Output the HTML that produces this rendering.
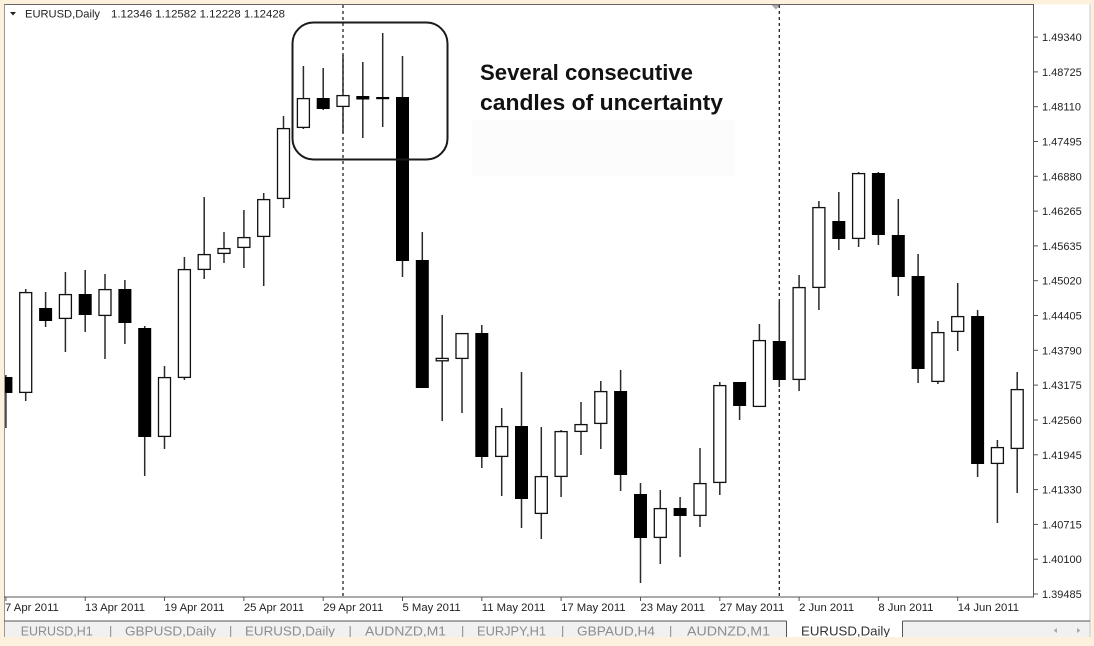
<!DOCTYPE html>
<html>
<head>
<meta charset="utf-8">
<style>
  html,body{margin:0;padding:0;background:#fdf1dd;}
  body{width:1094px;height:646px;overflow:hidden;}
  svg{display:block;}
  .ax{font-family:"Liberation Sans",Arial,sans-serif;font-size:11px;fill:#222;}
  .dt{font-family:"Liberation Sans",Arial,sans-serif;font-size:11.3px;fill:#222;}
  .tab{font-family:"Liberation Sans",Arial,sans-serif;font-size:12.8px;fill:#8c8c8c;}
  .tabA{font-family:"Liberation Sans",Arial,sans-serif;font-size:12.8px;fill:#333;}
  .ann{font-family:"Liberation Sans",Arial,sans-serif;font-size:22.5px;font-weight:bold;fill:#111;}
</style>
</head>
<body>
<svg width="1094" height="646" viewBox="0 0 1094 646" xmlns="http://www.w3.org/2000/svg">
  <!-- background -->
  <rect x="0" y="0" width="1094" height="646" fill="#fdf1dd"/>
  <rect x="4" y="4.5" width="1086" height="617" fill="#ffffff"/>
  <!-- tab strip -->
  <rect x="4" y="621" width="1086" height="16" fill="#f1f1f1"/>
  <rect x="786" y="620" width="117" height="17" fill="#ffffff"/>

  <!-- faint panel under annotation -->
  <rect x="472" y="120" width="263" height="56" fill="#fcfcfc"/>

  <!-- frame lines -->
  <line x1="4" y1="4.5" x2="1034" y2="4.5" stroke="#666" stroke-width="1"/>
  <line x1="4.5" y1="4.5" x2="4.5" y2="637" stroke="#999" stroke-width="1"/>
  <line x1="1033.5" y1="4.5" x2="1033.5" y2="597.5" stroke="#555" stroke-width="1"/>
  <line x1="4" y1="597" x2="1034" y2="597" stroke="#555" stroke-width="1"/>
  <line x1="1090" y1="4.5" x2="1090" y2="637" stroke="#c8c8c8" stroke-width="1"/>

  <!-- top marker -->
  <polygon points="771.5,5 780,5 776,9.5" fill="#aaa"/>

  <!-- header -->
  <polygon points="10,12 16,12 13,15.5" fill="#222"/>
  <text x="25" y="17.3" class="ax" style="font-size:11.2px" textLength="75" lengthAdjust="spacingAndGlyphs">EURUSD,Daily</text>
  <text x="111" y="17.3" class="ax" style="font-size:11.4px" textLength="174" lengthAdjust="spacingAndGlyphs">1.12346 1.12582 1.12228 1.12428</text>

  <!-- period separators -->
  <g stroke="#222" stroke-width="1.3" stroke-dasharray="3,3">
    <line x1="343" y1="5" x2="343" y2="597"/>
    <line x1="779.3" y1="5" x2="779.3" y2="597"/>
  </g>

  <!-- right axis ticks and labels -->
  <g stroke="#555" stroke-width="1">
    <line x1="1033" y1="37.1" x2="1038" y2="37.1"/>
    <line x1="1033" y1="71.9" x2="1038" y2="71.9"/>
    <line x1="1033" y1="106.7" x2="1038" y2="106.7"/>
    <line x1="1033" y1="141.5" x2="1038" y2="141.5"/>
    <line x1="1033" y1="176.3" x2="1038" y2="176.3"/>
    <line x1="1033" y1="211.1" x2="1038" y2="211.1"/>
    <line x1="1033" y1="245.9" x2="1038" y2="245.9"/>
    <line x1="1033" y1="280.7" x2="1038" y2="280.7"/>
    <line x1="1033" y1="315.5" x2="1038" y2="315.5"/>
    <line x1="1033" y1="350.3" x2="1038" y2="350.3"/>
    <line x1="1033" y1="385.1" x2="1038" y2="385.1"/>
    <line x1="1033" y1="420" x2="1038" y2="420"/>
    <line x1="1033" y1="454.8" x2="1038" y2="454.8"/>
    <line x1="1033" y1="489.6" x2="1038" y2="489.6"/>
    <line x1="1033" y1="524.4" x2="1038" y2="524.4"/>
    <line x1="1033" y1="559.2" x2="1038" y2="559.2"/>
    <line x1="1033" y1="594" x2="1038" y2="594"/>
  </g>
  <g class="ax">
    <text x="1042" y="41.1">1.49340</text>
    <text x="1042" y="75.9">1.48725</text>
    <text x="1042" y="110.7">1.48110</text>
    <text x="1042" y="145.5">1.47495</text>
    <text x="1042" y="180.3">1.46880</text>
    <text x="1042" y="215.1">1.46265</text>
    <text x="1042" y="249.9">1.45635</text>
    <text x="1042" y="284.7">1.45020</text>
    <text x="1042" y="319.5">1.44405</text>
    <text x="1042" y="354.3">1.43790</text>
    <text x="1042" y="389.1">1.43175</text>
    <text x="1042" y="424">1.42560</text>
    <text x="1042" y="458.8">1.41945</text>
    <text x="1042" y="493.6">1.41330</text>
    <text x="1042" y="528.4">1.40715</text>
    <text x="1042" y="563.2">1.40100</text>
    <text x="1042" y="598">1.39485</text>
  </g>

  <!-- bottom ticks and date labels -->
  <g stroke="#555" stroke-width="1">
    <line x1="5.9" y1="597" x2="5.9" y2="601"/>
    <line x1="85.2" y1="597" x2="85.2" y2="601"/>
    <line x1="164.5" y1="597" x2="164.5" y2="601"/>
    <line x1="243.9" y1="597" x2="243.9" y2="601"/>
    <line x1="323.2" y1="597" x2="323.2" y2="601"/>
    <line x1="402.5" y1="597" x2="402.5" y2="601"/>
    <line x1="481.8" y1="597" x2="481.8" y2="601"/>
    <line x1="561.1" y1="597" x2="561.1" y2="601"/>
    <line x1="640.5" y1="597" x2="640.5" y2="601"/>
    <line x1="719.8" y1="597" x2="719.8" y2="601"/>
    <line x1="799.1" y1="597" x2="799.1" y2="601"/>
    <line x1="878.4" y1="597" x2="878.4" y2="601"/>
    <line x1="957.7" y1="597" x2="957.7" y2="601"/>
  </g>
  <g class="dt">
    <text x="5" y="611">7 Apr 2011</text>
    <text x="85" y="611">13 Apr 2011</text>
    <text x="164.5" y="611">19 Apr 2011</text>
    <text x="243.9" y="611">25 Apr 2011</text>
    <text x="323.2" y="611">29 Apr 2011</text>
    <text x="402.5" y="611">5 May 2011</text>
    <text x="481.8" y="611">11 May 2011</text>
    <text x="561.1" y="611">17 May 2011</text>
    <text x="640.5" y="611">23 May 2011</text>
    <text x="719.8" y="611">27 May 2011</text>
    <text x="799.1" y="611">2 Jun 2011</text>
    <text x="878.4" y="611">8 Jun 2011</text>
    <text x="957.7" y="611">14 Jun 2011</text>
  </g>

  <!-- candles -->
  <svg x="5" y="5" width="1028" height="592" viewBox="5 5 1028 592" overflow="hidden">
  <g stroke="#2a2a2a" stroke-width="1.5">
    <line x1="5.9" y1="375" x2="5.9" y2="428"/>
    <line x1="25.7" y1="289" x2="25.7" y2="401"/>
    <line x1="45.6" y1="292" x2="45.6" y2="327"/>
    <line x1="65.4" y1="272" x2="65.4" y2="352"/>
    <line x1="85.2" y1="270" x2="85.2" y2="332"/>
    <line x1="105" y1="274" x2="105" y2="359"/>
    <line x1="124.9" y1="280" x2="124.9" y2="344"/>
    <line x1="144.7" y1="326" x2="144.7" y2="476"/>
    <line x1="164.5" y1="366" x2="164.5" y2="449"/>
    <line x1="184.4" y1="257" x2="184.4" y2="380"/>
    <line x1="204.2" y1="197" x2="204.2" y2="279"/>
    <line x1="224" y1="232" x2="224" y2="263"/>
    <line x1="243.9" y1="210" x2="243.9" y2="268"/>
    <line x1="263.7" y1="193" x2="263.7" y2="286"/>
    <line x1="283.5" y1="116" x2="283.5" y2="208"/>
    <line x1="303.4" y1="66" x2="303.4" y2="129"/>
    <line x1="323.2" y1="68" x2="323.2" y2="110"/>
    <line x1="343" y1="55" x2="343" y2="133"/>
    <line x1="362.8" y1="62" x2="362.8" y2="138"/>
    <line x1="382.7" y1="33" x2="382.7" y2="127"/>
    <line x1="402.5" y1="56" x2="402.5" y2="277"/>
    <line x1="422.3" y1="232" x2="422.3" y2="388"/>
    <line x1="442.2" y1="315" x2="442.2" y2="421"/>
    <line x1="462" y1="333" x2="462" y2="413"/>
    <line x1="481.8" y1="325" x2="481.8" y2="468"/>
    <line x1="501.7" y1="408" x2="501.7" y2="496"/>
    <line x1="521.5" y1="372" x2="521.5" y2="528"/>
    <line x1="541.3" y1="427" x2="541.3" y2="539"/>
    <line x1="561.1" y1="430" x2="561.1" y2="497"/>
    <line x1="581" y1="402" x2="581" y2="455"/>
    <line x1="600.8" y1="381" x2="600.8" y2="449"/>
    <line x1="620.6" y1="370" x2="620.6" y2="491"/>
    <line x1="640.5" y1="483" x2="640.5" y2="583"/>
    <line x1="660.3" y1="490" x2="660.3" y2="564"/>
    <line x1="680.1" y1="497" x2="680.1" y2="557"/>
    <line x1="700" y1="448" x2="700" y2="527"/>
    <line x1="719.8" y1="382" x2="719.8" y2="495"/>
    <line x1="739.6" y1="382" x2="739.6" y2="420"/>
    <line x1="759.4" y1="324" x2="759.4" y2="407"/>
    <line x1="779.3" y1="302" x2="779.3" y2="387"/>
    <line x1="799.1" y1="275" x2="799.1" y2="391"/>
    <line x1="818.9" y1="201" x2="818.9" y2="310"/>
    <line x1="838.8" y1="192" x2="838.8" y2="250"/>
    <line x1="858.6" y1="172" x2="858.6" y2="247"/>
    <line x1="878.4" y1="172" x2="878.4" y2="245"/>
    <line x1="898.3" y1="199" x2="898.3" y2="296"/>
    <line x1="918.1" y1="254" x2="918.1" y2="383"/>
    <line x1="937.9" y1="321" x2="937.9" y2="384"/>
    <line x1="957.7" y1="283" x2="957.7" y2="351"/>
    <line x1="977.6" y1="310" x2="977.6" y2="477"/>
    <line x1="997.4" y1="440" x2="997.4" y2="523"/>
    <line x1="1017.2" y1="372" x2="1017.2" y2="493"/>
  </g>
  <!-- bearish bodies -->
  <g fill="#000">
    <rect x="-0.6" y="377" width="13" height="16"/>
    <rect x="39.1" y="308" width="13" height="13"/>
    <rect x="78.7" y="294" width="13" height="21"/>
    <rect x="118.4" y="289" width="13" height="34"/>
    <rect x="138.2" y="328" width="13" height="109"/>
    <rect x="316.7" y="98" width="13" height="11"/>
    <rect x="356.3" y="96" width="13" height="3.5"/>
    <rect x="376.2" y="97" width="13" height="2.2"/>
    <rect x="396" y="97" width="13" height="164"/>
    <rect x="415.8" y="260" width="13" height="128"/>
    <rect x="475.3" y="333" width="13" height="124"/>
    <rect x="515" y="426" width="13" height="73"/>
    <rect x="614.1" y="391" width="13" height="84"/>
    <rect x="634" y="494" width="13" height="44"/>
    <rect x="673.6" y="508" width="13" height="8"/>
    <rect x="733.1" y="382" width="13" height="24"/>
    <rect x="772.8" y="341" width="13" height="39"/>
    <rect x="832.3" y="221" width="13" height="18"/>
    <rect x="871.9" y="173" width="13" height="62"/>
    <rect x="891.8" y="235" width="13" height="42"/>
    <rect x="911.6" y="276" width="13" height="93"/>
    <rect x="971.1" y="316" width="13" height="148"/>
  </g>
  <!-- bullish bodies -->
  <g fill="#fff" stroke="#111" stroke-width="1.3">
    <rect x="19.7" y="292.6" width="12" height="99.8"/>
    <rect x="59.4" y="294.6" width="12" height="23.8"/>
    <rect x="99" y="289.6" width="12" height="25.8"/>
    <rect x="158.5" y="377.6" width="12" height="58.8"/>
    <rect x="178.4" y="269.6" width="12" height="107.8"/>
    <rect x="198.2" y="254.6" width="12" height="14.8"/>
    <rect x="218" y="248.6" width="12" height="4.8"/>
    <rect x="237.9" y="237.6" width="12" height="9.8"/>
    <rect x="257.7" y="199.6" width="12" height="36.8"/>
    <rect x="277.5" y="128.6" width="12" height="69.8"/>
    <rect x="297.4" y="98.6" width="12" height="28.8"/>
    <rect x="337" y="95.6" width="12" height="10.8"/>
    <rect x="436.2" y="358.4" width="12" height="2.4"/>
    <rect x="456" y="333.6" width="12" height="24.8"/>
    <rect x="495.7" y="426.6" width="12" height="29.8"/>
    <rect x="535.3" y="476.6" width="12" height="36.8"/>
    <rect x="555.1" y="431.6" width="12" height="44.8"/>
    <rect x="575" y="424.6" width="12" height="6.8"/>
    <rect x="594.8" y="391.6" width="12" height="31.8"/>
    <rect x="654.3" y="508.6" width="12" height="28.8"/>
    <rect x="694" y="483.6" width="12" height="31.8"/>
    <rect x="713.8" y="385.6" width="12" height="96.8"/>
    <rect x="753.4" y="340.6" width="12" height="65.8"/>
    <rect x="793.1" y="287.6" width="12" height="91.8"/>
    <rect x="812.9" y="207.6" width="12" height="79.8"/>
    <rect x="852.6" y="173.6" width="12" height="64.8"/>
    <rect x="931.9" y="332.6" width="12" height="48.8"/>
    <rect x="951.7" y="316.6" width="12" height="14.8"/>
    <rect x="991.4" y="447.6" width="12" height="15.8"/>
    <rect x="1011.2" y="389.6" width="12" height="58.8"/>
  </g>
  </svg>

  <!-- annotation box -->
  <rect x="292.5" y="22.5" width="155" height="137" rx="21" ry="21" fill="none" stroke="#1a1a1a" stroke-width="2"/>
  <text x="480" y="80" class="ann" textLength="213" lengthAdjust="spacingAndGlyphs">Several consecutive</text>
  <text x="480" y="110" class="ann" textLength="243" lengthAdjust="spacingAndGlyphs">candles of uncertainty</text>

  <!-- tab strip lines -->
  <line x1="4" y1="621" x2="786.5" y2="621" stroke="#555" stroke-width="1"/>
  <line x1="902.5" y1="621" x2="1090" y2="621" stroke="#555" stroke-width="1"/>
  <line x1="786.5" y1="621" x2="786.5" y2="637" stroke="#555" stroke-width="1"/>
  <line x1="902.5" y1="621" x2="902.5" y2="637" stroke="#555" stroke-width="1"/>

  <!-- tabs -->
  <text x="20.7" y="635.5" class="tab" textLength="72" lengthAdjust="spacingAndGlyphs">EURUSD,H1</text>
  <text x="109" y="635.5" class="tab">|</text>
  <text x="125" y="635.5" class="tab" textLength="91" lengthAdjust="spacingAndGlyphs">GBPUSD,Daily</text>
  <text x="229" y="635.5" class="tab">|</text>
  <text x="245" y="635.5" class="tab" textLength="90" lengthAdjust="spacingAndGlyphs">EURUSD,Daily</text>
  <text x="348.5" y="635.5" class="tab">|</text>
  <text x="365" y="635.5" class="tab" textLength="81" lengthAdjust="spacingAndGlyphs">AUDNZD,M1</text>
  <text x="461" y="635.5" class="tab">|</text>
  <text x="477" y="635.5" class="tab" textLength="69" lengthAdjust="spacingAndGlyphs">EURJPY,H1</text>
  <text x="561" y="635.5" class="tab">|</text>
  <text x="577" y="635.5" class="tab" textLength="78" lengthAdjust="spacingAndGlyphs">GBPAUD,H4</text>
  <text x="669" y="635.5" class="tab">|</text>
  <text x="687" y="635.5" class="tab" textLength="83" lengthAdjust="spacingAndGlyphs">AUDNZD,M1</text>
  <text x="801" y="635.5" class="tabA" textLength="89" lengthAdjust="spacingAndGlyphs">EURUSD,Daily</text>
  <polygon points="1057,628 1053.5,630.5 1057,633" fill="#aaa"/>
  <polygon points="1077,628 1080.5,630.5 1077,633" fill="#aaa"/>

  <!-- bottom beige band (clips tab text descenders) -->
  <rect x="0" y="637" width="1094" height="9" fill="#fdf1dd"/>
  <rect x="0" y="0" width="1094" height="4" fill="#fdf1dd"/>
  <rect x="0" y="0" width="4" height="646" fill="#fdf1dd"/>
  <rect x="1090.5" y="0" width="3.5" height="646" fill="#fdf1dd"/>
</svg>
</body>
</html>
